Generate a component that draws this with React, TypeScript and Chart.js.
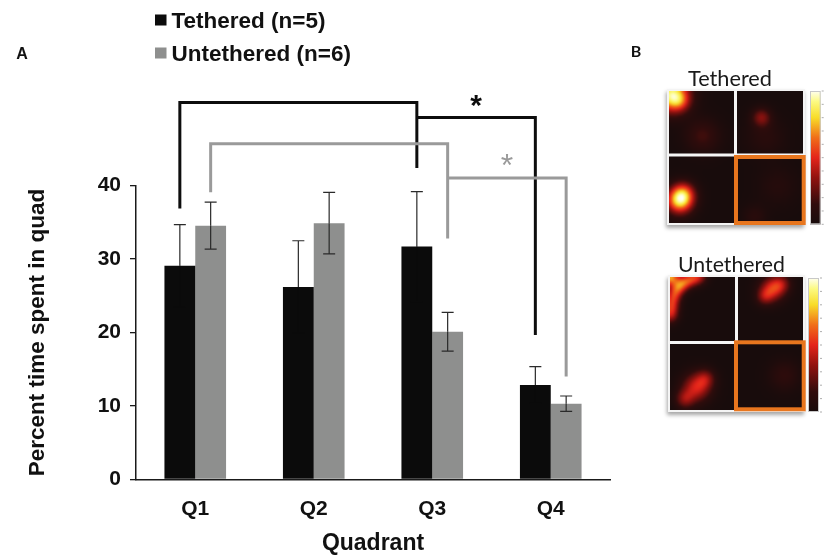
import React, { useEffect, useRef } from 'react';
import { Chart, registerables } from 'chart.js';

Chart.register(...registerables);

const FONT = "'Liberation Sans', Arial, Helvetica, sans-serif";

// ---- data ----
const quadrants = ['Q1', 'Q2', 'Q3', 'Q4'];
const tetheredMeans = [29.1, 26.2, 31.7, 12.85];
const tetheredErrors = [5.6, 6.3, 7.5, 2.5];
const untetheredMeans = [34.55, 34.9, 20.1, 10.3];
const untetheredErrors = [3.2, 4.2, 2.65, 1.05];
const seriesLabels = ['Tethered (n=5)', 'Untethered (n=6)'];
const seriesColors = ['#0b0b0b', '#8e8f8e'];
const yAxisTicks = [0, 10, 20, 30, 40];

// significance brackets (values in y-axis units)
const bracketSeries = [0, 0, 1, 1];
const bracketFrom = [0, 2, 0, 2];
const bracketTo = [2, 3, 2, 3];
const bracketStartY = [36.9, 49.3, 39.1, 41.05];
const bracketTopY = [51.35, 49.3, 45.7, 41.05];
const bracketEndY = [42.4, 19.65, 32.8, 14.0];
const starSeries = [0, 1];
const starY = [51.9, 43.65];

// heat-map blobs: [u, v, sigma, amplitude] in the unit square of each map (summed)
const tetheredBlobs = [
  [0.02, 0.03, 0.09, 0.9],
  [0.08, 0.08, 0.05, 0.2],
  [0.25, 0.34, 0.09, 0.18],
  [0.69, 0.2, 0.05, 0.3],
  [0.72, 0.35, 0.1, 0.1],
  [0.08, 0.83, 0.07, 0.8],
  [0.11, 0.77, 0.06, 0.35],
  [0.81, 0.72, 0.1, 0.08],
  [0.64, 0.95, 0.06, 0.1],
];
const untetheredBlobs = [
  [0.0, 0.0, 0.045, 0.7],
  [0.005, 0.3, 0.04, 0.26],
  [0.01, 0.25, 0.04, 0.28],
  [0.015, 0.2, 0.04, 0.28],
  [0.025, 0.15, 0.04, 0.28],
  [0.045, 0.105, 0.04, 0.28],
  [0.07, 0.07, 0.04, 0.28],
  [0.1, 0.045, 0.04, 0.28],
  [0.14, 0.025, 0.04, 0.28],
  [0.185, 0.01, 0.04, 0.27],
  [0.23, 0.0, 0.04, 0.24],
  [0.77, 0.09, 0.065, 0.48],
  [0.71, 0.15, 0.045, 0.24],
  [0.84, 0.05, 0.05, 0.24],
  [0.2, 0.83, 0.075, 0.46],
  [0.27, 0.76, 0.05, 0.24],
  [0.11, 0.92, 0.05, 0.28],
  [0.86, 0.74, 0.08, 0.13],
];

const hotStops = [
  [0, 24, 12, 12],
  [0.15, 48, 12, 12],
  [0.35, 145, 18, 15],
  [0.5, 228, 36, 26],
  [0.65, 240, 110, 25],
  [0.8, 248, 220, 40],
  [0.92, 252, 250, 130],
  [1, 255, 255, 240],
];

function hot(t: number): number[] {
  const x = Math.max(0, Math.min(1, t));
  for (let i = 1; i < hotStops.length; i++) {
    const a = hotStops[i - 1];
    const b = hotStops[i];
    if (x <= b[0]) {
      const f = (x - a[0]) / (b[0] - a[0]);
      return [a[1] + (b[1] - a[1]) * f, a[2] + (b[2] - a[2]) * f, a[3] + (b[3] - a[3]) * f];
    }
  }
  const l = hotStops[hotStops.length - 1];
  return [l[1], l[2], l[3]];
}

function renderField(blobs: number[][], n = 64): HTMLCanvasElement {
  const c = document.createElement('canvas');
  c.width = n;
  c.height = n;
  const cx = c.getContext('2d')!;
  const img = cx.createImageData(n, n);
  for (let j = 0; j < n; j++) {
    for (let i = 0; i < n; i++) {
      const u = (i + 0.5) / n;
      const v = (j + 0.5) / n;
      let s = 0;
      for (const b of blobs) {
        const du = u - b[0];
        const dv = v - b[1];
        s += b[3] * Math.exp(-(du * du + dv * dv) / (2 * b[2] * b[2]));
      }
      const col = hot(s);
      const k = (j * n + i) * 4;
      img.data[k] = col[0];
      img.data[k + 1] = col[1];
      img.data[k + 2] = col[2];
      img.data[k + 3] = 255;
    }
  }
  cx.putImageData(img, 0, 0);
  return c;
}

function drawHeatmap(
  ctx: CanvasRenderingContext2D,
  field: HTMLCanvasElement,
  frame: { x: number; y: number; w: number; h: number },
  divX: number,
  divY: number,
  box: { x: number; y: number; w: number; h: number },
  bar: { x: number; y: number; w: number; h: number }
) {
  ctx.save();
  ctx.shadowColor = 'rgba(0,0,0,0.35)';
  ctx.shadowBlur = 4;
  ctx.shadowOffsetX = -1;
  ctx.shadowOffsetY = 3;
  ctx.fillStyle = '#f4f4f4';
  ctx.fillRect(frame.x, frame.y, frame.w, frame.h);
  ctx.restore();

  ctx.save();
  ctx.imageSmoothingEnabled = true;
  ctx.imageSmoothingQuality = 'high';
  ctx.drawImage(field, frame.x + 2, frame.y + 2, frame.w - 4, frame.h - 4);
  ctx.restore();

  ctx.save();
  ctx.fillStyle = '#f6f6f6';
  ctx.fillRect(divX - 1.5, frame.y, 3, frame.h);
  ctx.fillRect(frame.x, divY - 1.5, frame.w, 3);
  ctx.strokeStyle = '#e8761e';
  ctx.lineWidth = 4;
  ctx.strokeRect(box.x, box.y, box.w, box.h);
  ctx.restore();

  // colour bar
  ctx.save();
  const g = ctx.createLinearGradient(0, bar.y + bar.h, 0, bar.y);
  for (const s of hotStops) {
    g.addColorStop(s[0], `rgb(${s[1]},${s[2]},${s[3]})`);
  }
  ctx.fillStyle = g;
  ctx.fillRect(bar.x, bar.y, bar.w, bar.h);
  ctx.strokeStyle = '#c8c8c8';
  ctx.lineWidth = 1;
  ctx.strokeRect(bar.x + 0.5, bar.y + 0.5, bar.w - 1, bar.h - 1);
  ctx.strokeStyle = '#777';
  ctx.lineWidth = 0.6;
  for (let i = 0; i <= 10; i++) {
    const yy = bar.y + bar.h - (bar.h * i) / 10;
    ctx.beginPath();
    ctx.moveTo(bar.x + bar.w + 1, yy);
    ctx.lineTo(bar.x + bar.w + 3, yy);
    ctx.stroke();
  }
  ctx.restore();
}

function fitText(ctx: CanvasRenderingContext2D, text: string, family: string, weight: string, target: number) {
  ctx.font = `${weight} 20px ${family}`;
  const w = ctx.measureText(text).width;
  const size = (20 * target) / w;
  ctx.font = `${weight} ${size}px ${family}`;
}

const backgroundPlugin = {
  id: 'whiteBg',
  beforeDraw(chart: any) {
    const { ctx, width, height } = chart;
    ctx.save();
    ctx.fillStyle = '#ffffff';
    ctx.fillRect(0, 0, width, height);
    ctx.restore();
  },
};

const errorBarPlugin = {
  id: 'errorBars',
  afterDatasetsDraw(chart: any) {
    const ctx = chart.ctx;
    const yScale = chart.scales.y;
    const errs = [tetheredErrors, untetheredErrors];
    ctx.save();
    ctx.lineWidth = 1.2;
    chart.data.datasets.forEach((ds: any, di: number) => {
      const meta = chart.getDatasetMeta(di);
      meta.data.forEach((el: any, i: number) => {
        const v = ds.data[i];
        const e = errs[di][i];
        const x = el.x;
        const ym = yScale.getPixelForValue(v);
        const yt = yScale.getPixelForValue(v + e);
        const yb = yScale.getPixelForValue(v - e);
        const cap = 6;
        ctx.strokeStyle = '#2a2a2a';
        ctx.beginPath();
        ctx.moveTo(x, yt);
        ctx.lineTo(x, ym);
        ctx.moveTo(x - cap, yt);
        ctx.lineTo(x + cap, yt);
        ctx.stroke();
        // lower half sits inside the bar; on the black bars it is black on black
        ctx.strokeStyle = di === 0 ? ds.backgroundColor : '#2a2a2a';
        ctx.beginPath();
        ctx.moveTo(x, ym);
        ctx.lineTo(x, yb);
        ctx.moveTo(x - cap, yb);
        ctx.lineTo(x + cap, yb);
        ctx.stroke();
      });
    });
    ctx.restore();
  },
};

const bracketPlugin = {
  id: 'brackets',
  afterDatasetsDraw(chart: any) {
    const ctx = chart.ctx;
    const yScale = chart.scales.y;
    const colors = ['#0d0d0d', '#9a9a9a'];
    ctx.save();
    ctx.lineWidth = 3;
    ctx.lineJoin = 'miter';
    ctx.lineCap = 'butt';
    for (let k = 0; k < bracketSeries.length; k++) {
      const di = bracketSeries[k];
      const meta = chart.getDatasetMeta(di);
      const x1 = meta.data[bracketFrom[k]].x;
      const x2 = meta.data[bracketTo[k]].x;
      ctx.strokeStyle = colors[di];
      ctx.beginPath();
      ctx.moveTo(x1, yScale.getPixelForValue(bracketStartY[k]));
      ctx.lineTo(x1, yScale.getPixelForValue(bracketTopY[k]));
      ctx.lineTo(x2, yScale.getPixelForValue(bracketTopY[k]));
      ctx.lineTo(x2, yScale.getPixelForValue(bracketEndY[k]));
      ctx.stroke();
    }
    for (let k = 0; k < starSeries.length; k++) {
      const di = starSeries[k];
      const meta = chart.getDatasetMeta(di);
      const x = (meta.data[2].x + meta.data[3].x) / 2;
      const y = yScale.getPixelForValue(starY[k]);
      ctx.fillStyle = colors[di];
      ctx.font = di === 0 ? `bold 30px ${FONT}` : `normal 32px ${FONT}`;
      ctx.textAlign = 'center';
      ctx.textBaseline = 'alphabetic';
      ctx.fillText('*', x, y + 17);
    }
    ctx.restore();
  },
};

const panelPlugin = {
  id: 'panels',
  afterDraw(chart: any) {
    const ctx: CanvasRenderingContext2D = chart.ctx;
    ctx.save();
    // legend
    chart.data.datasets.forEach((ds: any, i: number) => {
      const yc = i === 0 ? 20.5 : 53.5;
      ctx.fillStyle = ds.backgroundColor;
      ctx.fillRect(155, yc - 6, 11.5, 11);
      ctx.fillStyle = '#111';
      ctx.font = `bold 22.5px ${FONT}`;
      ctx.textAlign = 'left';
      ctx.textBaseline = 'middle';
      ctx.fillText(ds.label, 171.5, yc + 1);
    });
    // panel labels
    ctx.font = `bold 16px ${FONT}`;
    ctx.textAlign = 'center';
    ctx.fillText('A', 22, 55);
    ctx.font = `bold 16px Lato, ${FONT}`;
    ctx.fillText('B', 636, 51.5);

    ctx.fillStyle = '#1a1a1a';
    fitText(ctx, 'Tethered', 'Lato', 'normal', 84);
    ctx.fillText('Tethered', 730, 79);
    fitText(ctx, 'Untethered', 'Lato', 'normal', 107);
    ctx.fillText('Untethered', 731.5, 265);

    const f1 = renderField(tetheredBlobs);
    const f2 = renderField(untetheredBlobs);
    drawHeatmap(
      ctx,
      f1,
      { x: 667, y: 89, w: 138, h: 136 },
      735.5,
      155,
      { x: 736, y: 157, w: 67.7, h: 66 },
      { x: 810, y: 91, w: 10.7, h: 133.3 }
    );
    drawHeatmap(
      ctx,
      f2,
      { x: 668, y: 275, w: 137, h: 137 },
      736.5,
      342.5,
      { x: 736, y: 342.3, w: 67.7, h: 67 },
      { x: 808, y: 278, w: 11, h: 134 }
    );
    ctx.restore();
  },
};

export default function App() {
  const ref = useRef<HTMLCanvasElement>(null);
  useEffect(() => {
    if (!ref.current) return;
    const chart = new Chart(ref.current, {
      type: 'bar',
      data: {
        labels: quadrants,
        datasets: [
          {
            label: seriesLabels[0],
            data: tetheredMeans,
            backgroundColor: seriesColors[0],
            borderWidth: 0,
            categoryPercentage: 0.52,
            barPercentage: 1.0,
          },
          {
            label: seriesLabels[1],
            data: untetheredMeans,
            backgroundColor: seriesColors[1],
            borderWidth: 0,
            categoryPercentage: 0.52,
            barPercentage: 1.0,
          },
        ],
      },
      options: {
        responsive: false,
        animation: false,
        devicePixelRatio: 1,
        layout: { padding: { left: 0, top: 185.7, right: 214, bottom: 0 } },
        plugins: {
          legend: { display: false },
          tooltip: { enabled: false },
        },
        scales: {
          x: {
            grid: { display: false, drawTicks: false },
            border: { display: true, color: '#1a1a1a', width: 1.5 },
            ticks: {
              font: { family: FONT, size: 21, weight: 'bold' },
              color: '#111',
              padding: 17,
            },
            title: {
              display: true,
              text: 'Quadrant',
              font: { family: FONT, size: 23, weight: 'bold' },
              color: '#111',
              padding: { top: 0, bottom: 0 },
            },
            afterFit: (s: any) => {
              s.height = 77.7;
            },
          },
          y: {
            min: 0,
            max: 40,
            afterBuildTicks: (s: any) => {
              s.ticks = yAxisTicks.map((v) => ({ value: v }));
            },
            grid: {
              display: true,
              drawOnChartArea: false,
              drawTicks: true,
              tickLength: 6,
              color: '#1a1a1a',
              lineWidth: 1.3,
            },
            border: { display: true, color: '#1a1a1a', width: 1.5 },
            ticks: {
              font: { family: FONT, size: 21, weight: 'bold' },
              color: '#111',
              padding: 9,
            },
            title: {
              display: true,
              text: 'Percent time spent in quad',
              font: { family: FONT, size: 22.5, weight: 'bold' },
              color: '#111',
              padding: { top: 24, bottom: 0 },
            },
            afterFit: (s: any) => {
              s.width = 136;
            },
          },
        },
      } as any,
      plugins: [backgroundPlugin, errorBarPlugin, bracketPlugin, panelPlugin],
    });
    return () => chart.destroy();
  }, []);
  return (
    <div style={{ position: 'absolute', left: 0, top: 0, width: 824, height: 557, background: '#fff' }}>
      <canvas ref={ref} width={824} height={557} style={{ display: 'block', width: 824, height: 557 }} />
    </div>
  );
}
